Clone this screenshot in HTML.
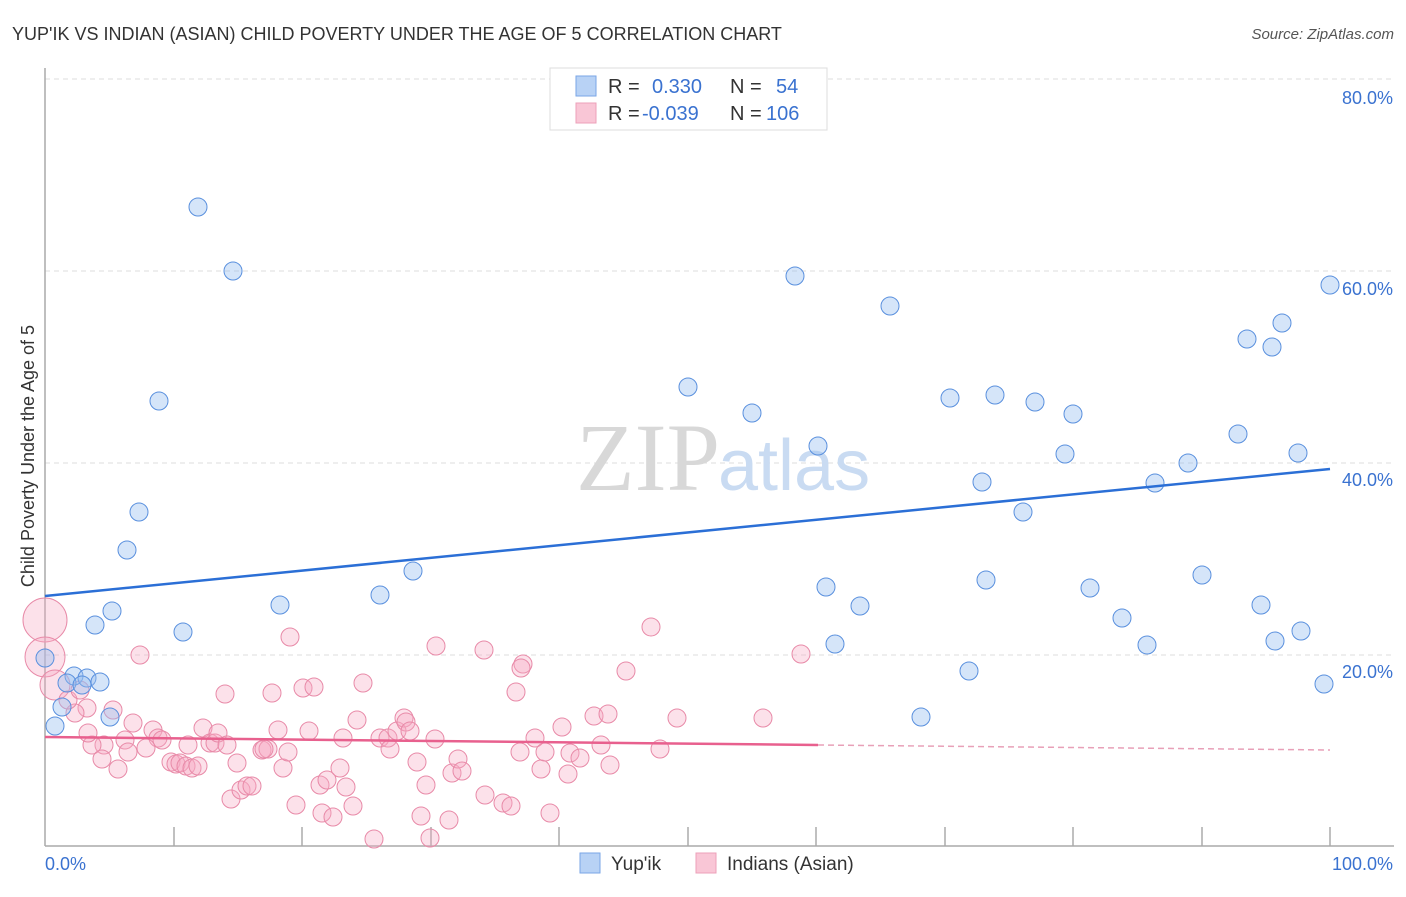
<!DOCTYPE html>
<html><head><meta charset="utf-8"><style>
body{margin:0;background:#fff;font-family:"Liberation Sans",sans-serif}
</style></head><body>
<svg width="1406" height="892" xmlns="http://www.w3.org/2000/svg" font-family="Liberation Sans, sans-serif">
<rect width="1406" height="892" fill="#fff"/>
<text x="12" y="40" font-size="18" fill="#333">YUP'IK VS INDIAN (ASIAN) CHILD POVERTY UNDER THE AGE OF 5 CORRELATION CHART</text>
<text x="1394" y="39" font-size="15" fill="#555" font-style="italic" text-anchor="end">Source: ZipAtlas.com</text>
<g stroke="#ddd" stroke-dasharray="5,4" stroke-width="1">
<line x1="45" y1="79" x2="1394" y2="79"/><line x1="45" y1="271" x2="1394" y2="271"/>
<line x1="45" y1="463" x2="1394" y2="463"/><line x1="45" y1="655" x2="1394" y2="655"/>
</g>
<text x="720" y="490" font-family="Liberation Serif,serif" font-size="96" fill="#d8d8d8" text-anchor="end">ZIP</text>
<text x="718" y="490" font-size="72" fill="#c9dbf2">atlas</text>
<g stroke="#aaa" stroke-width="1.5">
<line x1="45" y1="68" x2="45" y2="846"/><line x1="45" y1="846" x2="1394" y2="846"/>
<line x1="174" y1="827" x2="174" y2="846"/><line x1="302" y1="827" x2="302" y2="846"/><line x1="431" y1="827" x2="431" y2="846"/><line x1="559" y1="827" x2="559" y2="846"/><line x1="688" y1="827" x2="688" y2="846"/><line x1="816" y1="827" x2="816" y2="846"/><line x1="945" y1="827" x2="945" y2="846"/><line x1="1073" y1="827" x2="1073" y2="846"/><line x1="1202" y1="827" x2="1202" y2="846"/><line x1="1330" y1="827" x2="1330" y2="846"/>
</g>
<g font-size="18" fill="#3a72d0" text-anchor="end">
<text x="1393" y="104">80.0%</text><text x="1393" y="295">60.0%</text><text x="1393" y="486">40.0%</text><text x="1393" y="678">20.0%</text>
</g>
<text x="45" y="870" font-size="18" fill="#3a72d0">0.0%</text>
<text x="1393" y="870" font-size="18" fill="#3a72d0" text-anchor="end">100.0%</text>
<text transform="translate(34,456) rotate(-90)" font-size="18" fill="#333" text-anchor="middle">Child Poverty Under the Age of 5</text>
<g fill="rgba(247,170,195,0.35)" stroke="#e88aa8" stroke-width="1">
<circle cx="45" cy="620" r="22"/><circle cx="45" cy="657" r="20"/><circle cx="55" cy="685" r="15"/>
</g>
<g id="pk" fill="rgba(247,170,195,0.35)" stroke="#e88aa8" stroke-width="1"></g>
<g id="bl" fill="rgba(150,190,240,0.4)" stroke="#5a90de" stroke-width="1"></g>
<line x1="45" y1="596" x2="1330" y2="469" stroke="#2b6fd6" stroke-width="2.5"/>
<line x1="45" y1="737" x2="818" y2="745" stroke="#e8608e" stroke-width="2.5"/>
<line x1="818" y1="745" x2="1330" y2="750" stroke="#e8a0b8" stroke-width="1.5" stroke-dasharray="6,4"/>
<rect x="550" y="68" width="277" height="62" fill="#fff" stroke="#ddd"/>
<rect x="576" y="76" width="20" height="20" fill="#b8d2f5" stroke="#7aa6e6"/>
<rect x="576" y="103" width="20" height="20" fill="#f9c6d6" stroke="#eda0b9"/>
<g font-size="20"><text x="608" y="93" fill="#333">R =</text><text x="652" y="93" fill="#3a72d0">0.330</text><text x="730" y="93" fill="#333">N =</text><text x="776" y="93" fill="#3a72d0">54</text>
<text x="608" y="120" fill="#333">R =</text><text x="642" y="120" fill="#3a72d0">-0.039</text><text x="730" y="120" fill="#333">N =</text><text x="766" y="120" fill="#3a72d0">106</text></g>
<rect x="580" y="853" width="20" height="20" fill="#b8d2f5" stroke="#7aa6e6"/>
<text x="611" y="870" font-size="19" fill="#333">Yup'ik</text>
<rect x="696" y="853" width="20" height="20" fill="#f9c6d6" stroke="#eda0b9"/>
<text x="727" y="870" font-size="19" fill="#333">Indians (Asian)</text>
</svg>
<script>
const ns="http://www.w3.org/2000/svg";
const B=[198,207,233,271,159,401,139,512,127,550,112,611,95,625,183,632,280,605,380,595,413,571,45,658,55,726,74,676,87,678,100,682,67,683,82,685,62,707,110,717,795,276,890,306,688,387,752,413,818,446,950,398,995,395,1035,402,1073,414,1065,454,982,482,1023,512,826,587,860,606,835,644,986,580,969,671,921,717,1090,588,1122,618,1147,645,1155,483,1188,463,1238,434,1202,575,1261,605,1275,641,1301,631,1324,684,1247,339,1272,347,1282,323,1298,453,1330,285];
const P=[140,655,290,637,436,646,484,650,523,664,521,668,651,627,626,671,801,654,225,694,272,693,303,688,314,687,363,683,516,692,113,710,87,708,75,713,68,700,80,690,133,723,153,730,158,738,162,740,146,748,125,740,104,745,92,745,88,733,102,759,118,769,128,752,171,762,176,764,180,763,186,766,192,768,198,766,188,745,203,728,210,743,215,743,218,733,227,745,237,763,231,799,241,790,247,786,252,786,262,750,268,749,264,749,278,730,283,768,288,752,296,805,309,731,320,785,327,780,322,813,333,817,340,768,343,738,346,787,353,806,357,720,374,839,380,738,388,738,390,749,397,731,404,718,406,722,410,731,417,762,421,816,426,785,430,838,435,739,449,820,452,773,458,759,462,771,485,795,503,803,511,806,520,752,535,738,541,769,545,752,550,813,562,727,568,774,570,753,580,758,594,716,601,745,608,714,610,765,660,749,677,718,763,718];
function add(id,a){const g=document.getElementById(id);for(let i=0;i<a.length;i+=2){const c=document.createElementNS(ns,"circle");c.setAttribute("cx",a[i]);c.setAttribute("cy",a[i+1]);c.setAttribute("r",9);g.appendChild(c);}}
add("pk",P);add("bl",B);
</script>
</body></html>
